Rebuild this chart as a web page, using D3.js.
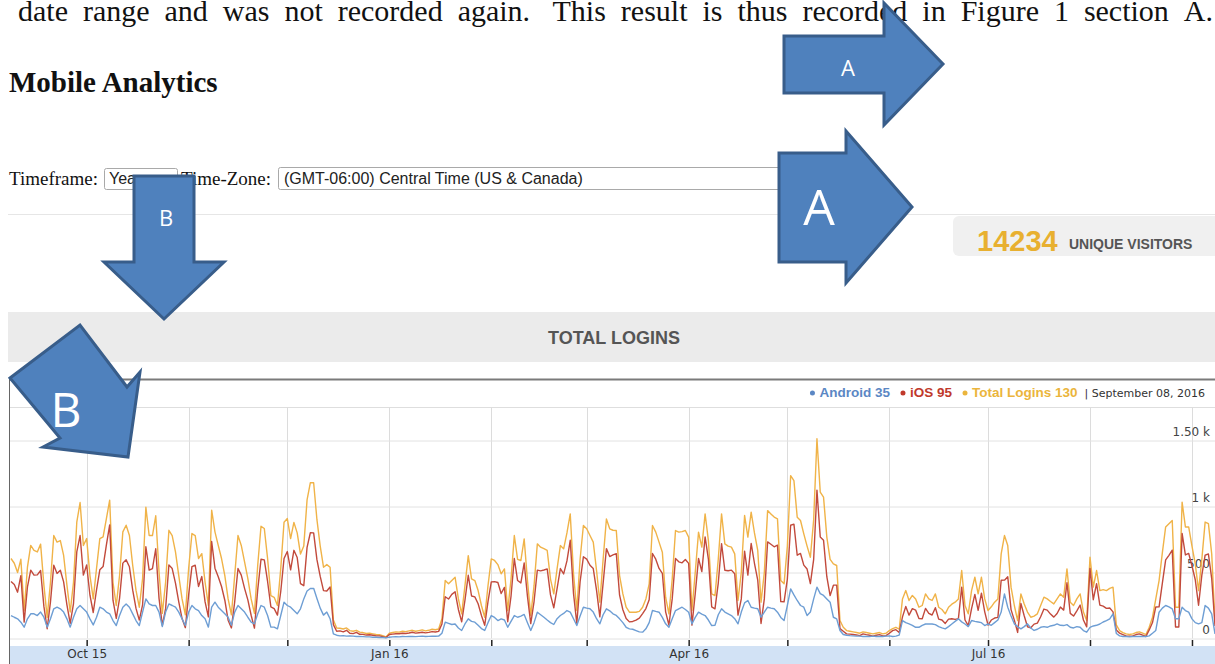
<!DOCTYPE html>
<html>
<head>
<meta charset="utf-8">
<script src="https://cdn.jsdelivr.net/npm/d3@7"></script>
<style>
  body { margin: 0; background: #fff; }
  svg { display: block; }
</style>
</head>
<body>
<script>
// Mobile Analytics screenshot - daily logins, Sep 2015 to Sep 2016

const w = 1215;
const h = 664;

const paragraph = "date range and was not recorded again. This result is thus recorded in Figure 1 section A.";
const pageTitle = "Mobile Analytics";
const timeframeOption = "Year";
const timeZoneOption = "(GMT-06:00) Central Time (US & Canada)";
const uniqueVisitors = 14234;
const chartTitle = "TOTAL LOGINS";
const legendDate = "September 08, 2016";

const firstDayText = "2015-09-08";
const lastDayText = "2016-09-08";

const seriesNames = ["Android", "iOS", "Total Logins"];
const seriesColors = ["#6e9ed4", "#c24a3c", "#f0b348"];
const legendColors = ["#5b87c4", "#c0392b", "#ebb53c"];

const yTicks = [0, 500, 1000, 1500];
const yTickLabels = ["0", "500", "1 k", "1.50 k"];

// one value per day, starting Sep 8 2015
const total = [
  606,570,500,600,210,540,705,667,656,715, 404,160,426,780,730,742,629,404,201,426,
  881,1030,705,757,477,300,530,757,770,909, 1048,426,250,477,808,858,780,553,364,237,
  454,995,780,780,930,504,190,426,820,780, 656,477,300,180,530,795,780,606,643,426,
  250,972,808,705,606,477,300,180,477,780, 705,580,454,300,190,555,850,833,606,325,
  312,250,530,881,909,757,880,800,640,700, 1050,1180,1180,900,700,540,560,540,140,80,
  78,72,80,60,55,62,48,45,38,40, 35,30,28,22,12,40,45,50,48,55,
  52,58,62,55,60,65,58,62,70,66, 72,150,440,414,440,464,300,187,400,628,
  452,439,363,250,161,400,603,591,560,490, 527,212,450,780,600,591,755,439,174,400,
  717,692,680,667,450,338,527,704,679,800, 944,490,212,600,856,831,780,730,515,275,
  600,906,831,820,818,477,338,237,199,199, 199,205,237,300,414,856,806,730,654,313,
  187,450,818,806,810,818,768,212,500,806, 692,944,742,338,325,600,944,717,700,692,
  641,288,500,932,768,957,800,667,275,500, 969,944,920,906,439,414,700,1234,1196,919,
  894,793,700,616,900,1513,1109,1071,768,600, 565,553,136,85,60,55,50,45,40,50,
  45,40,35,40,45,35,40,60,75,85, 70,300,363,288,326,300,237,250,338,300,
  288,338,237,220,187,237,260,275,300,515, 250,187,363,464,338,464,300,212,240,275,
  300,641,780,704,389,250,136,338,262,200, 161,170,187,250,313,300,280,262,300,338,
  313,527,275,250,300,338,200,136,616,389, 515,363,370,363,380,389,103,60,45,35,
  30,35,45,50,40,30,85,161,300,439, 650,845,870,894,237,237,1033,845,845,700,
  565,363,600,882,870,641,130
];

const android = [
  174,161,149,124,86,149,187,187,174,200, 161,86,149,225,237,225,200,149,86,161,
  225,250,225,200,149,103,161,237,225,200, 187,136,98,174,237,262,237,187,136,98,
  200,300,262,250,250,200,90,200,262,250, 237,200,149,98,200,250,225,212,174,149,
  86,237,275,237,212,187,161,100,200,250, 225,200,161,124,111,187,250,237,174,86,
  86,73,174,275,250,237,212,187,225,300, 360,379,380,303,230,177,200,150,35,25,
  20,22,18,20,18,15,16,14,12,12, 10,10,8,8,5,10,12,14,12,15,
  14,16,15,14,16,18,15,16,18,17, 18,40,124,115,106,110,80,61,110,149,
  130,124,100,75,61,120,174,160,136,149, 140,85,130,174,161,170,182,120,61,120,
  199,180,161,140,120,106,150,174,190,212, 200,150,98,170,237,230,225,200,150,111,
  180,225,210,187,175,149,120,85,73,70, 60,50,48,73,120,212,205,199,160,111,
  85,150,212,225,237,220,199,111,160,199, 185,174,140,98,100,180,225,200,187,174,
  150,111,200,270,288,237,230,225,161,200, 237,230,225,199,160,136,250,376,330,288,
  250,237,174,200,300,389,340,326,300,275, 161,149,61,30,25,22,20,18,18,15,
  16,15,18,15,16,15,18,20,15,18, 25,136,120,111,100,85,85,100,110,110,
  110,105,90,80,73,90,110,130,149,126, 110,90,136,130,125,120,98,110,100,120,
  140,200,338,237,170,111,90,73,90,111, 80,61,70,85,90,85,95,100,111,100,
  98,105,85,80,90,85,60,48,85,95, 100,110,125,135,149,187,38,20,15,15,
  12,15,15,15,15,15,20,40,61,199, 230,250,240,225,150,150,237,212,200,149,
  120,111,120,250,230,187,35
];

const ios = [
  432,409,351,476,124,391,518,480,482,515, 243,74,277,555,493,517,429,255,115,265,
  656,780,480,557,328,197,369,520,545,709, 861,290,152,303,571,596,543,366,228,139,
  254,695,518,530,680,304,100,226,558,530, 419,277,151,82,330,545,555,394,469,277,
  164,735,533,468,394,290,139,80,277,530, 480,380,293,176,79,368,600,596,432,239,
  226,177,356,606,659,520,668,613,415,400, 690,801,800,597,470,363,360,390,105,55,
  58,50,62,40,37,47,32,31,26,28, 25,20,20,14,7,30,33,36,36,40,
  38,42,47,41,44,47,43,46,52,49, 54,110,316,299,334,354,220,126,290,479,
  322,315,263,175,100,280,429,431,424,341, 387,127,320,606,439,421,573,319,113,280,
  518,512,519,527,330,232,377,530,489,588, 744,340,114,430,619,601,555,530,365,164,
  420,681,621,633,643,328,218,152,126,129, 139,155,189,227,294,644,601,531,494,202,
  102,300,606,581,573,598,569,101,340,607, 507,770,602,240,225,420,719,517,513,518,
  491,177,300,662,480,720,570,442,114,300, 732,714,695,707,279,278,450,858,866,631,
  644,556,526,416,600,1124,769,745,468,325, 404,404,75,55,35,33,30,27,22,35,
  29,25,17,25,29,20,22,40,60,67, 45,164,243,177,226,215,152,150,228,190,
  178,233,147,140,114,147,150,145,151,389, 140,97,227,334,213,344,202,102,140,155,
  160,441,442,467,219,139,46,265,172,89, 81,109,117,165,223,215,185,162,189,238,
  215,422,190,170,210,253,140,88,531,294, 415,253,245,228,231,202,65,40,30,20,
  18,20,30,35,25,15,65,121,239,240, 420,595,630,669,87,87,796,633,645,551,
  445,252,480,632,640,454,95
];

const serif = "'Liberation Serif', 'Times New Roman', serif";
const sans = "'Liberation Sans', Arial, sans-serif";
const chartFont = "'DejaVu Sans', Verdana, sans-serif";
const calloutFont = "'Open Sans', 'Liberation Sans', sans-serif";

const svg = d3.select("body")
  .append("svg")
  .attr("width", w)
  .attr("height", h);

svg.append("rect").attr("width", w).attr("height", h).attr("fill", "#fff");

// ---- justified paragraph line at the top (cropped at the top edge, as in the page)
const words = paragraph.split(" ");
const para = svg.append("g")
  .attr("font-family", serif)
  .attr("font-size", 30)
  .attr("fill", "#111");
const wordNodes = para.selectAll("text")
  .data(words)
  .enter()
  .append("text")
  .attr("y", 21)
  .text(d => d);
const widths = [];
wordNodes.each(function() { widths.push(this.getComputedTextLength()); });
const gapWeights = words.slice(0, -1).map(d => d === "again." ? 1.5 : 1);
const spare = (1213 - 18) - d3.sum(widths);
const unit = spare / d3.sum(gapWeights);
let cursor = 18;
wordNodes.attr("x", (d, i) => {
  const pos = cursor;
  cursor += widths[i] + (i < gapWeights.length ? gapWeights[i] * unit : 0);
  return pos;
});

// ---- page heading and form row
svg.append("text")
  .attr("x", 9).attr("y", 92)
  .attr("font-family", serif).attr("font-size", 29).attr("font-weight", "bold")
  .attr("fill", "#111")
  .text(pageTitle);

svg.append("text")
  .attr("x", 9).attr("y", 185)
  .attr("font-family", serif).attr("font-size", 19).attr("fill", "#111")
  .text("Timeframe:");

svg.append("rect")
  .attr("x", 104.5).attr("y", 168.5).attr("width", 73).attr("height", 21).attr("rx", 2)
  .attr("fill", "#fff").attr("stroke", "#a9a9a9");
svg.append("text")
  .attr("x", 109).attr("y", 184)
  .attr("font-family", sans).attr("font-size", 16).attr("fill", "#222")
  .text(timeframeOption);

svg.append("text")
  .attr("x", 181).attr("y", 185)
  .attr("font-family", serif).attr("font-size", 19).attr("fill", "#111")
  .text("Time-Zone:");

svg.append("rect")
  .attr("x", 278.5).attr("y", 167.5).attr("width", 520).attr("height", 22).attr("rx", 2)
  .attr("fill", "#fff").attr("stroke", "#a9a9a9");
svg.append("text")
  .attr("x", 284).attr("y", 184)
  .attr("font-family", sans).attr("font-size", 16).attr("fill", "#222")
  .text(timeZoneOption);

svg.append("line")
  .attr("x1", 8).attr("x2", w).attr("y1", 214.5).attr("y2", 214.5)
  .attr("stroke", "#e6e6e6");

// ---- unique visitors badge
svg.append("rect")
  .attr("x", 953).attr("y", 216).attr("width", 280).attr("height", 40).attr("rx", 6)
  .attr("fill", "#f0f0f0");
svg.append("text")
  .attr("x", 977).attr("y", 251)
  .attr("font-family", sans).attr("font-size", 29).attr("font-weight", "bold")
  .attr("fill", "#e8b030")
  .text(uniqueVisitors);
svg.append("text")
  .attr("x", 1069).attr("y", 249)
  .attr("font-family", sans).attr("font-size", 14).attr("font-weight", "bold")
  .attr("fill", "#555")
  .text("UNIQUE VISITORS");

// ---- chart header bar
svg.append("rect")
  .attr("x", 8).attr("y", 312).attr("width", w - 8).attr("height", 50)
  .attr("fill", "#ebebeb");
svg.append("text")
  .attr("x", 614).attr("y", 344)
  .attr("text-anchor", "middle")
  .attr("font-family", sans).attr("font-size", 18).attr("font-weight", "bold")
  .attr("fill", "#555")
  .text(chartTitle);

// ---- chart
const parseDay = d3.timeParse("%Y-%m-%d");
const firstDay = parseDay(firstDayText);
const lastDay = parseDay(lastDayText);
const days = total.map((v, i) => d3.timeDay.offset(firstDay, i));

const x_scale = d3.scaleTime()
  .domain([firstDay, lastDay])
  .range([11, 1215]);

const y_scale = d3.scaleLinear()
  .domain([0, 1750])
  .range([638.5, 407.5]);

const plotLeft = 10;
const plotRight = w;

// plot top border
svg.append("line")
  .attr("x1", plotLeft).attr("x2", plotRight)
  .attr("y1", y_scale(1750)).attr("y2", y_scale(1750))
  .attr("stroke", "#dedede");

// monthly vertical grid
const months = d3.timeMonth.range(d3.timeMonth.ceil(firstDay), lastDay);
svg.append("g")
  .selectAll("line")
  .data(months)
  .enter()
  .append("line")
  .attr("x1", d => Math.round(x_scale(d)) + 0.5)
  .attr("x2", d => Math.round(x_scale(d)) + 0.5)
  .attr("y1", y_scale(1750))
  .attr("y2", y_scale(0))
  .attr("stroke", "#dcdcdc");

// horizontal grid + right side labels
const y_axis = d3.axisLeft(y_scale)
  .tickValues(yTicks)
  .tickSize(plotRight - plotLeft)
  .tickFormat((d, i) => yTickLabels[i]);

const yAxisG = svg.append("g")
  .attr("class", "y axis")
  .attr("transform", `translate(${plotRight},0)`)
  .call(y_axis);
yAxisG.select(".domain").remove();
yAxisG.selectAll("line").attr("stroke", "#e2e2e2");
yAxisG.selectAll("text")
  .attr("x", -5)
  .attr("dy", -5)
  .attr("font-family", chartFont)
  .attr("font-size", 12)
  .attr("fill", "#444");

// x axis band
svg.append("rect")
  .attr("x", plotLeft).attr("y", 646).attr("width", plotRight - plotLeft).attr("height", h - 646)
  .attr("fill", "#d2e2f5");

const monthFmt = d3.timeFormat("%b %y");
const x_axis = d3.axisBottom(x_scale)
  .tickValues(months)
  .tickSize(6)
  .tickFormat(d => d.getMonth() % 3 === 0 ? monthFmt(d) : "");

const xAxisG = svg.append("g")
  .attr("class", "x axis")
  .attr("transform", "translate(0,640)")
  .call(x_axis);
xAxisG.select(".domain").remove();
xAxisG.selectAll("line").attr("stroke", "#222").attr("stroke-width", 1.5);
xAxisG.selectAll("text")
  .attr("y", 14)
  .attr("dy", "0.32em")
  .attr("font-family", chartFont)
  .attr("font-size", 12)
  .attr("fill", "#333");

// lines
svg.append("clipPath").attr("id", "plot-clip")
  .append("rect")
  .attr("x", plotLeft).attr("y", 400).attr("width", plotRight - plotLeft).attr("height", 245);

const line = d3.line()
  .x((d, i) => x_scale(days[i]))
  .y(d => y_scale(d));

const seriesData = [android, ios, total];
const drawOrder = [2, 1, 0];
drawOrder.forEach(k => {
  svg.append("path")
    .datum(seriesData[k])
    .attr("clip-path", "url(#plot-clip)")
    .attr("fill", "none")
    .attr("stroke", seriesColors[k])
    .attr("stroke-width", 1.4)
    .attr("stroke-linejoin", "round")
    .attr("d", line);
});

// chart frame
svg.append("line")
  .attr("x1", 9).attr("x2", w).attr("y1", 379.5).attr("y2", 379.5)
  .attr("stroke", "#7a7a7a").attr("stroke-width", 2);
svg.append("line")
  .attr("x1", 9.5).attr("x2", 9.5).attr("y1", 379).attr("y2", h)
  .attr("stroke", "#666");

// legend, laid out right to left
const legendG = svg.append("g").attr("font-family", sans);
const dateText = legendG.append("text")
  .attr("x", 1205).attr("y", 397)
  .attr("text-anchor", "end")
  .attr("font-family", chartFont).attr("font-size", 11).attr("fill", "#333")
  .text("| " + legendDate);
let lx = 1205 - dateText.node().getComputedTextLength() - 7;
const lastIndex = total.length - 1;
[2, 1, 0].forEach(k => {
  const t = legendG.append("text")
    .attr("y", 397)
    .attr("text-anchor", "end")
    .attr("x", lx)
    .attr("font-size", 13.5).attr("font-weight", "bold")
    .attr("fill", legendColors[k])
    .text(seriesNames[k] + " " + seriesData[k][lastIndex]);
  const tw = t.node().getComputedTextLength();
  legendG.append("circle")
    .attr("cx", lx - tw - 7).attr("cy", 393).attr("r", 2.5)
    .attr("fill", legendColors[k]);
  lx = lx - tw - 20;
});

// ---- blue callout arrows (annotations drawn on the figure)
const arrowFill = "#4f81bd";
const arrowStroke = "#385d8a";
const callouts = [
  { pts: [[784,36],[884,36],[884,3],[943,64],[884,125],[884,93],[784,93]], label: "A", lx: 848, ly: 76, size: 22 },
  { pts: [[779,153],[846,153],[846,131],[912,207],[846,283],[846,262],[779,262]], label: "A", lx: 819, ly: 225, size: 50 },
  { pts: [[134,176],[194,176],[194,262],[224,262],[164,319],[104,262],[134,262]], label: "B", lx: 166, ly: 226, size: 22 },
  { pts: [[10,378],[80,325],[127,387],[140,372],[128,457],[43,447],[60,438]], label: "B", lx: 66, ly: 427, size: 48 }
];
const calloutG = svg.append("g");
callouts.forEach(c => {
  calloutG.append("polygon")
    .attr("points", c.pts.map(p => p.join(",")).join(" "))
    .attr("fill", arrowFill)
    .attr("stroke", arrowStroke)
    .attr("stroke-width", 3)
    .attr("stroke-linejoin", "miter");
  calloutG.append("text")
    .attr("x", c.lx).attr("y", c.ly)
    .attr("text-anchor", "middle")
    .attr("font-family", calloutFont)
    .attr("font-size", c.size)
    .attr("fill", "#fff")
    .text(c.label);
});
</script>
</body>
</html>
